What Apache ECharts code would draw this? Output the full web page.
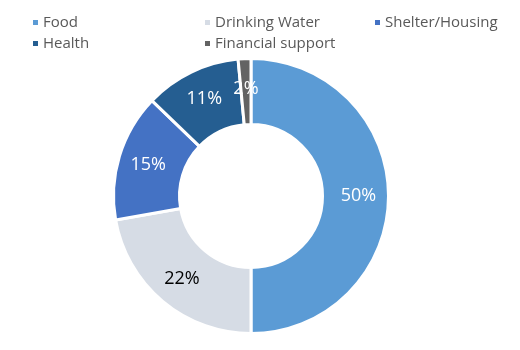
<!DOCTYPE html>
<html><head><meta charset="utf-8">
<script src="https://cdn.jsdelivr.net/npm/echarts@6/dist/echarts.min.js"></script>
<style>html,body{margin:0;padding:0;background:#fff}#c{width:520px;height:350px}</style>
</head><body><div id="c"></div>
<script>
const categories = ['Food', 'Drinking Water', 'Shelter/Housing', 'Health', 'Financial support'];
const values = [50, 22.2, 15, 11.3, 1.5];
const colors = ['#5B9BD5', '#D6DCE5', '#4472C4', '#255E91', '#636363'];
const labelColors = ['#ffffff', '#000000', '#ffffff', '#ffffff', '#ffffff'];

const chart = echarts.init(document.getElementById('c'), null, {renderer: 'canvas'});
const legendBase = {
  orient: 'vertical', itemWidth: 7, itemHeight: 7, itemGap: 6, icon: 'rect',
  textStyle: {color: '#595959', fontSize: 15, fontFamily: 'Open Sans', padding: [0,0,0,-1]},
  top: 10
};
chart.setOption({
  animation: false,
  color: colors,
  legend: [
    Object.assign({}, legendBase, {left: 26, data: [categories[0], categories[3]]}),
    Object.assign({}, legendBase, {left: 198, data: [categories[1], categories[4]]}),
    Object.assign({}, legendBase, {left: 368, data: [categories[2]]})
  ],
  series: [{
    type: 'pie',
    center: [251, 196],
    radius: [71.5, 137.5],
    startAngle: 90,
    clockwise: true,
    itemStyle: {borderColor: '#fff', borderWidth: 3},
    label: {
      position: 'inside', fontSize: 18, fontFamily: 'Open Sans',
      formatter: p => Math.round(p.percent) + '%'
    },
    labelLine: {show: false},
    data: categories.map((c, i) => ({
      name: c, value: values[i],
      label: {color: labelColors[i]}
    }))
  }]
});
</script></body></html>
